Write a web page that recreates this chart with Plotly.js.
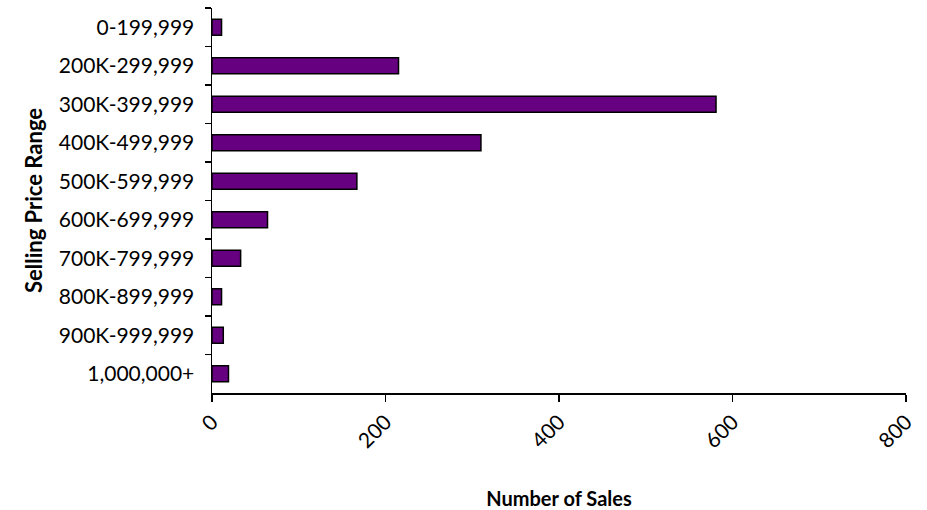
<!DOCTYPE html>
<html>
<head>
<meta charset="utf-8">
<script src="https://cdn.plot.ly/plotly-3.0.1.min.js"></script>
<style>html,body{margin:0;padding:0;background:#fff;}#chart{width:927px;height:510px;}</style>
</head>
<body>
<div id="chart"></div>
<script>
const categories = ["0-199,999","200K-299,999","300K-399,999","400K-499,999","500K-599,999","600K-699,999","700K-799,999","800K-899,999","900K-999,999","1,000,000+"];
const sales = [11, 215, 581, 310, 167, 64, 33, 11, 13, 19];
const xTicks = [0, 200, 400, 600, 800];

const font = "Lato, 'Open Sans', sans-serif";
const trace = {
  type: "bar",
  orientation: "h",
  y: categories,
  x: sales,
  marker: {color: "#660080", line: {color: "#000000", width: 1.5}},
  hoverinfo: "x+y"
};
const layout = {
  width: 927, height: 510,
  margin: {l: 212, r: 21, t: 8, b: 117},
  paper_bgcolor: "#ffffff", plot_bgcolor: "#ffffff",
  showlegend: false,
  bargap: 0.58,
  font: {family: font, size: 21, color: "#000"},
  xaxis: {
    range: [0, 800], tickvals: xTicks, tickangle: -45,
    showgrid: false, zeroline: false,
    showline: true, linecolor: "#000", linewidth: 1.5,
    ticks: "outside", ticklen: 7, tickwidth: 1.5, tickcolor: "#000",
    ticklabelstandoff: 0,
    tickfont: {family: font, size: 21},
    title: {text: "<b>Number of Sales</b>", font: {family: font, size: 20}, standoff: 44}
  },
  yaxis: {
    type: "category", autorange: "reversed",
    showgrid: false, zeroline: false,
    showline: true, linecolor: "#000", linewidth: 1.5,
    ticks: "outside", tickson: "boundaries", ticklen: 6, tickwidth: 1.5, tickcolor: "#000",
    ticklabelstandoff: 12,
    tickfont: {family: font, size: 21},
    title: {text: "<b>Selling Price Range</b>", font: {family: font, size: 22}, standoff: 10}
  }
};
Plotly.newPlot("chart", [trace], layout, {displayModeBar: false, staticPlot: true});
</script>
</body>
</html>
